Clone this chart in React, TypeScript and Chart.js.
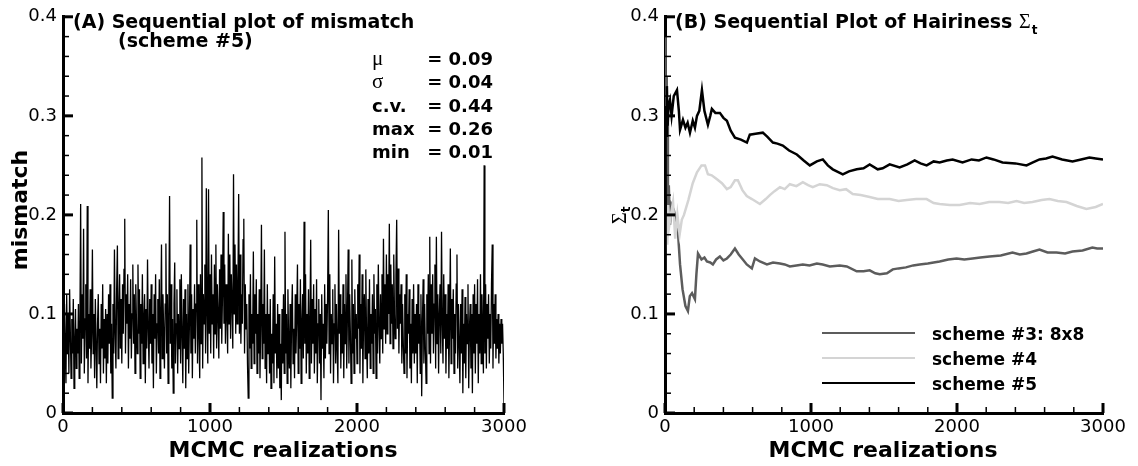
import React, { useEffect, useRef } from 'react';
import { Chart, registerables } from 'chart.js';

Chart.register(...registerables);

const SANS = "'DejaVu Sans', sans-serif";
const SERIF = "'Liberation Serif', 'DejaVu Serif', serif";

// ---------- Panel A data: mismatch per MCMC realization (sampled every 5) ----------
const mismatchStep = 5;
const mismatchValues = [
  0.09, 0.05, 0.11, 0.07, 0.03, 0.12, 0.06, 0.10, 0.04, 0.125, 0.08, 0.035, 0.095, 0.06, 0.115, 0.025, 0.07, 0.105, 0.045, 0.085,
  0.06, 0.11, 0.035, 0.09, 0.211, 0.05, 0.12, 0.075, 0.186, 0.04, 0.095, 0.13, 0.055, 0.209, 0.03, 0.1, 0.065, 0.125, 0.045, 0.08,
  0.165, 0.06, 0.1, 0.035, 0.115, 0.07, 0.025, 0.09, 0.12, 0.05, 0.085, 0.03, 0.11, 0.065, 0.13, 0.04, 0.095, 0.055, 0.105, 0.03,
  0.1, 0.05, 0.12, 0.07, 0.13, 0.04, 0.09, 0.015, 0.11, 0.06, 0.165, 0.08, 0.045, 0.125, 0.169, 0.055, 0.1, 0.14, 0.065, 0.115,
  0.05, 0.13, 0.08, 0.145, 0.196, 0.06, 0.12, 0.09, 0.14, 0.045, 0.11, 0.075, 0.135, 0.055, 0.1, 0.15, 0.07, 0.12, 0.04, 0.13,
  0.09, 0.06, 0.15, 0.08, 0.125, 0.035, 0.11, 0.07, 0.14, 0.05, 0.095, 0.12, 0.03, 0.105, 0.065, 0.155, 0.085, 0.045, 0.115, 0.07,
  0.13, 0.05, 0.1, 0.025, 0.12, 0.075, 0.14, 0.04, 0.09, 0.115, 0.06, 0.135, 0.035, 0.1, 0.17, 0.055, 0.12, 0.08, 0.045, 0.11,
  0.171, 0.06, 0.12, 0.03, 0.1, 0.219, 0.07, 0.13, 0.045, 0.095, 0.02, 0.11, 0.152, 0.05, 0.09, 0.125, 0.04, 0.1, 0.065, 0.135,
  0.05, 0.14, 0.08, 0.03, 0.115, 0.065, 0.125, 0.025, 0.1, 0.055, 0.13, 0.04, 0.09, 0.17, 0.06, 0.12, 0.035, 0.105, 0.075, 0.13,
  0.06, 0.11, 0.195, 0.05, 0.13, 0.08, 0.035, 0.14, 0.07, 0.258, 0.045, 0.12, 0.09, 0.15, 0.06, 0.227, 0.1, 0.05, 0.226, 0.08,
  0.14, 0.06, 0.16, 0.09, 0.12, 0.055, 0.15, 0.08, 0.17, 0.065, 0.13, 0.1, 0.055, 0.145, 0.085, 0.16, 0.07, 0.12, 0.203, 0.09,
  0.15, 0.07, 0.13, 0.1, 0.06, 0.181, 0.09, 0.16, 0.075, 0.14, 0.11, 0.065, 0.241, 0.1, 0.17, 0.08, 0.15, 0.09, 0.13, 0.221,
  0.08, 0.16, 0.07, 0.12, 0.09, 0.175, 0.196, 0.06, 0.13, 0.085, 0.11, 0.05, 0.015, 0.12, 0.065, 0.14, 0.045, 0.1, 0.07, 0.163,
  0.05, 0.12, 0.08, 0.135, 0.04, 0.1, 0.06, 0.125, 0.035, 0.09, 0.19, 0.055, 0.11, 0.07, 0.165, 0.045, 0.1, 0.03, 0.13, 0.06,
  0.1, 0.04, 0.115, 0.025, 0.08, 0.05, 0.12, 0.03, 0.158, 0.06, 0.09, 0.035, 0.11, 0.045, 0.1, 0.025, 0.07, 0.013, 0.105, 0.05,
  0.12, 0.04, 0.183, 0.06, 0.1, 0.03, 0.125, 0.07, 0.045, 0.11, 0.025, 0.095, 0.13, 0.05, 0.085, 0.035, 0.12, 0.06, 0.1, 0.15,
  0.04, 0.11, 0.065, 0.135, 0.03, 0.09, 0.12, 0.055, 0.193, 0.07, 0.14, 0.04, 0.1, 0.06, 0.125, 0.035, 0.09, 0.175, 0.05, 0.115,
  0.07, 0.13, 0.04, 0.105, 0.06, 0.135, 0.03, 0.09, 0.115, 0.05, 0.1, 0.013, 0.12, 0.065, 0.09, 0.035, 0.13, 0.055, 0.11, 0.07,
  0.12, 0.205, 0.06, 0.14, 0.04, 0.1, 0.07, 0.125, 0.03, 0.09, 0.13, 0.05, 0.11, 0.065, 0.03, 0.185, 0.08, 0.12, 0.045, 0.1,
  0.06, 0.13, 0.035, 0.11, 0.07, 0.14, 0.045, 0.1, 0.165, 0.05, 0.12, 0.08, 0.03, 0.155, 0.06, 0.11, 0.04, 0.125, 0.075, 0.1,
  0.05, 0.13, 0.085, 0.16, 0.04, 0.11, 0.065, 0.14, 0.03, 0.1, 0.12, 0.055, 0.145, 0.075, 0.035, 0.115, 0.06, 0.135, 0.045, 0.1,
  0.07, 0.12, 0.04, 0.14, 0.08, 0.105, 0.035, 0.13, 0.06, 0.15, 0.09, 0.05, 0.12, 0.075, 0.14, 0.06, 0.176, 0.085, 0.13, 0.07,
  0.16, 0.08, 0.14, 0.1, 0.191, 0.07, 0.15, 0.09, 0.13, 0.065, 0.16, 0.1, 0.075, 0.14, 0.195, 0.085, 0.146, 0.06, 0.12, 0.09,
  0.13, 0.05, 0.11, 0.07, 0.04, 0.12, 0.06, 0.14, 0.035, 0.1, 0.08, 0.125, 0.045, 0.09, 0.03, 0.115, 0.06, 0.13, 0.05, 0.1,
  0.06, 0.11, 0.03, 0.13, 0.07, 0.1, 0.04, 0.12, 0.017, 0.09, 0.135, 0.05, 0.11, 0.065, 0.03, 0.12, 0.08, 0.14, 0.06, 0.178,
  0.05, 0.13, 0.08, 0.14, 0.06, 0.11, 0.15, 0.045, 0.178, 0.07, 0.12, 0.04, 0.1, 0.13, 0.06, 0.183, 0.09, 0.05, 0.14, 0.075,
  0.12, 0.04, 0.1, 0.065, 0.13, 0.035, 0.09, 0.166, 0.05, 0.115, 0.075, 0.125, 0.04, 0.1, 0.06, 0.13, 0.16, 0.045, 0.11, 0.07,
  0.03, 0.11, 0.06, 0.125, 0.02, 0.09, 0.05, 0.117, 0.035, 0.1, 0.07, 0.13, 0.025, 0.085, 0.11, 0.045, 0.1, 0.02, 0.12, 0.06,
  0.13, 0.04, 0.11, 0.07, 0.135, 0.03, 0.1, 0.06, 0.14, 0.05, 0.12, 0.08, 0.04, 0.25, 0.06, 0.13, 0.045, 0.11, 0.075, 0.12,
  0.05, 0.1, 0.065, 0.13, 0.17, 0.045, 0.11, 0.07, 0.12, 0.055, 0.095, 0.065, 0.1, 0.05, 0.09, 0.06, 0.095, 0.07, 0.09, 0.06,
  0.01,
];

const statLabels = ['μ', 'σ', 'c.v.', 'max', 'min'];
const statValues = ['= 0.09', '= 0.04', '= 0.44', '= 0.26', '= 0.01'];

// ---------- Panel B data: running hairiness ----------
const scheme3X = [0, 2, 4, 6, 9, 12, 16, 20, 26, 34, 45, 60, 75, 90, 103, 120, 140, 157, 170, 185, 205, 215, 226, 250, 270, 287, 310, 328, 350, 376, 400, 424, 450, 479, 505, 533, 560, 595, 616, 650, 698, 740, 787, 820, 855, 900, 944, 990, 1040, 1080, 1129, 1197, 1245, 1313, 1360, 1402, 1440, 1471, 1520, 1560, 1600, 1650, 1700, 1744, 1800, 1840, 1881, 1940, 1997, 2050, 2107, 2160, 2223, 2300, 2380, 2430, 2476, 2520, 2565, 2620, 2681, 2740, 2791, 2860, 2927, 2960, 3000];
const scheme3Y = [0.38, 0.22, 0.36, 0.25, 0.34, 0.24, 0.30, 0.21, 0.23, 0.19, 0.21, 0.205, 0.195, 0.18, 0.150, 0.125, 0.108, 0.103, 0.118, 0.121, 0.115, 0.14, 0.161, 0.155, 0.157, 0.153, 0.152, 0.150, 0.155, 0.158, 0.154, 0.156, 0.160, 0.166, 0.160, 0.155, 0.150, 0.146, 0.156, 0.153, 0.150, 0.152, 0.151, 0.150, 0.148, 0.149, 0.150, 0.149, 0.151, 0.150, 0.148, 0.149, 0.148, 0.143, 0.143, 0.144, 0.141, 0.140, 0.141, 0.145, 0.146, 0.147, 0.149, 0.150, 0.151, 0.152, 0.153, 0.155, 0.156, 0.155, 0.156, 0.157, 0.158, 0.159, 0.162, 0.160, 0.161, 0.163, 0.165, 0.162, 0.162, 0.161, 0.163, 0.164, 0.167, 0.166, 0.166];

const scheme4X = [0, 2, 5, 10, 16, 22, 30, 40, 55, 70, 85, 100, 115, 130, 160, 190, 219, 250, 274, 294, 320, 356, 390, 424, 450, 479, 499, 530, 560, 595, 650, 690, 718, 750, 787, 820, 855, 900, 944, 980, 1012, 1060, 1108, 1150, 1197, 1240, 1286, 1340, 1402, 1457, 1539, 1600, 1655, 1720, 1792, 1840, 1881, 1950, 2018, 2090, 2155, 2220, 2291, 2350, 2408, 2460, 2517, 2580, 2633, 2690, 2750, 2820, 2886, 2950, 3000];
const scheme4Y = [0.12, 0.19, 0.16, 0.20, 0.17, 0.21, 0.19, 0.20, 0.213, 0.176, 0.20, 0.18, 0.195, 0.20, 0.215, 0.232, 0.243, 0.250, 0.250, 0.241, 0.240, 0.236, 0.232, 0.226, 0.228, 0.235, 0.235, 0.225, 0.219, 0.216, 0.211, 0.216, 0.220, 0.224, 0.228, 0.226, 0.231, 0.229, 0.233, 0.230, 0.228, 0.231, 0.230, 0.227, 0.225, 0.226, 0.221, 0.220, 0.218, 0.216, 0.216, 0.214, 0.215, 0.216, 0.216, 0.212, 0.211, 0.210, 0.210, 0.212, 0.211, 0.213, 0.213, 0.212, 0.214, 0.212, 0.213, 0.215, 0.216, 0.214, 0.213, 0.209, 0.206, 0.208, 0.211];

const scheme5X = [0, 2, 4, 6, 9, 13, 18, 24, 34, 45, 60, 82, 95, 103, 123, 140, 155, 171, 190, 205, 219, 235, 253, 270, 294, 310, 321, 345, 376, 400, 424, 450, 479, 520, 561, 581, 620, 670, 700, 739, 770, 807, 850, 903, 950, 992, 1040, 1081, 1115, 1149, 1218, 1260, 1313, 1360, 1402, 1457, 1491, 1539, 1607, 1660, 1710, 1750, 1792, 1840, 1881, 1930, 1970, 2038, 2100, 2150, 2202, 2250, 2312, 2400, 2476, 2520, 2565, 2610, 2654, 2720, 2791, 2850, 2907, 2950, 3000];
const scheme5Y = [0.0, 0.05, 0.22, 0.31, 0.28, 0.33, 0.29, 0.31, 0.316, 0.30, 0.32, 0.326, 0.305, 0.286, 0.296, 0.288, 0.293, 0.283, 0.295, 0.288, 0.300, 0.305, 0.326, 0.305, 0.291, 0.300, 0.307, 0.303, 0.303, 0.298, 0.295, 0.285, 0.278, 0.276, 0.273, 0.281, 0.282, 0.283, 0.279, 0.273, 0.272, 0.270, 0.265, 0.261, 0.255, 0.250, 0.254, 0.256, 0.250, 0.246, 0.241, 0.244, 0.246, 0.247, 0.251, 0.246, 0.247, 0.251, 0.248, 0.251, 0.255, 0.252, 0.250, 0.254, 0.253, 0.255, 0.256, 0.253, 0.256, 0.255, 0.258, 0.256, 0.253, 0.252, 0.250, 0.253, 0.256, 0.257, 0.259, 0.256, 0.254, 0.256, 0.258, 0.257, 0.256];

const legendLabels = ['scheme #3: 8x8', 'scheme #4', 'scheme #5'];
const seriesColors = ['#5c5c5c', '#d4d4d4', '#000000'];

// ---------- axes ----------
const xMajorTicks = [0, 1000, 2000, 3000];
const xMinorTicks = [200, 400, 600, 800, 1200, 1400, 1600, 1800, 2200, 2400, 2600, 2800];
const yMajorTicks = [0, 0.1, 0.2, 0.3, 0.4];
const yMinorTicks = [0.02, 0.04, 0.06, 0.08, 0.12, 0.14, 0.16, 0.18, 0.22, 0.24, 0.26, 0.28, 0.32, 0.34, 0.36, 0.38];

const W = 569;
const H = 466;

function drawInwardTicks(chart: any) {
  const { ctx, chartArea, scales } = chart;
  const { left, bottom } = chartArea;
  const x = scales.x;
  const y = scales.y;
  ctx.save();
  ctx.strokeStyle = '#000';
  ctx.lineCap = 'butt';
  const seg = (x1: number, y1: number, x2: number, y2: number, w: number) => {
    ctx.lineWidth = w;
    ctx.beginPath();
    ctx.moveTo(x1, y1);
    ctx.lineTo(x2, y2);
    ctx.stroke();
  };
  xMajorTicks.forEach((v) => {
    const p = x.getPixelForValue(v);
    seg(p, bottom, p, bottom - 10, 3);
  });
  xMinorTicks.forEach((v) => {
    const p = x.getPixelForValue(v);
    seg(p, bottom, p, bottom - 6, 1.5);
  });
  yMajorTicks.forEach((v) => {
    const p = y.getPixelForValue(v);
    seg(left, p, left + 10, p, 3);
  });
  yMinorTicks.forEach((v) => {
    const p = y.getPixelForValue(v);
    seg(left, p, left + 6, p, 1.5);
  });
  ctx.restore();
}

function axisScales(yWidth: number) {
  const tickFont = { family: SANS, size: 18 };
  return {
    x: {
      type: 'linear' as const,
      min: 0,
      max: 3000,
      ticks: {
        stepSize: 1000,
        font: tickFont,
        color: '#000',
        padding: 4,
        maxRotation: 0,
        callback: (v: any) => String(v),
      },
      grid: { display: false, drawTicks: false },
      border: { display: true, width: 3, color: '#000' },
      afterFit: (s: any) => {
        s.height = 53;
      },
    },
    y: {
      type: 'linear' as const,
      min: 0,
      max: 0.4,
      ticks: {
        stepSize: 0.1,
        font: tickFont,
        color: '#000',
        padding: 6,
        callback: (v: any) => (Number(v) === 0 ? '0' : Number(v).toFixed(1)),
      },
      grid: { display: false, drawTicks: false },
      border: { display: true, width: 3, color: '#000' },
      afterFit: (s: any) => {
        s.width = yWidth;
      },
    },
  };
}

const panelAPlugin = {
  id: 'panelADecor',
  afterDraw(chart: any) {
    drawInwardTicks(chart);
    const ctx = chart.ctx;
    ctx.save();
    ctx.fillStyle = '#000';
    ctx.textBaseline = 'alphabetic';
    ctx.textAlign = 'left';
    ctx.font = `bold 19px ${SANS}`;
    ctx.fillText('(A) Sequential plot of mismatch', 73, 28);
    ctx.fillText('(scheme #5)', 118, 47);
    const baselines = [65, 88, 111.5, 135, 158];
    statLabels.forEach((lab, i) => {
      ctx.textAlign = 'left';
      if (i < 2) ctx.font = `21px ${SERIF}`;
      else ctx.font = `bold 18px ${SANS}`;
      ctx.fillText(lab, 372, baselines[i]);
      ctx.font = `bold 18px ${SANS}`;
      ctx.textAlign = 'right';
      ctx.fillText(statValues[i], 493, baselines[i]);
    });
    // axis titles
    ctx.font = `bold 22px ${SANS}`;
    ctx.textAlign = 'center';
    ctx.fillText('MCMC realizations', 283, 457);
    ctx.save();
    ctx.translate(27, 210);
    ctx.rotate(-Math.PI / 2);
    ctx.fillText('mismatch', 0, 0);
    ctx.restore();
    ctx.restore();
  },
};

const panelBPlugin = {
  id: 'panelBDecor',
  afterDraw(chart: any) {
    drawInwardTicks(chart);
    const ctx = chart.ctx;
    ctx.save();
    ctx.fillStyle = '#000';
    ctx.textBaseline = 'alphabetic';
    ctx.textAlign = 'left';
    ctx.font = `bold 19px ${SANS}`;
    const t1 = '(B) Sequential Plot of Hairiness ';
    ctx.fillText(t1, 106, 28);
    const w1 = ctx.measureText(t1).width;
    ctx.font = `20px ${SERIF}`;
    ctx.fillText('Σ', 106 + w1, 28);
    const w2 = ctx.measureText('Σ').width;
    ctx.font = `bold 12px ${SANS}`;
    ctx.fillText('t', 106 + w1 + w2 + 1, 34);

    // legend
    const lineY = [333, 358, 383];
    const textY = [340, 365, 390];
    legendLabels.forEach((lab, i) => {
      ctx.strokeStyle = seriesColors[i];
      ctx.lineWidth = 2;
      ctx.beginPath();
      ctx.moveTo(253, lineY[i]);
      ctx.lineTo(346, lineY[i]);
      ctx.stroke();
      ctx.font = `bold 17px ${SANS}`;
      ctx.fillStyle = '#000';
      ctx.fillText(lab, 363, textY[i]);
    });

    // axis titles
    ctx.font = `bold 22px ${SANS}`;
    ctx.textAlign = 'center';
    ctx.fillText('MCMC realizations', 314, 457);
    ctx.save();
    ctx.translate(57, 224);
    ctx.rotate(-Math.PI / 2);
    ctx.textAlign = 'left';
    ctx.font = `20px ${SERIF}`;
    ctx.fillText('Σ', 0, 0);
    const ws = ctx.measureText('Σ').width;
    ctx.font = `bold 12px ${SANS}`;
    ctx.fillText('t', ws, 4);
    ctx.restore();
    ctx.restore();
  },
};

function makePoints(xs: number[], ys: number[]) {
  return xs.map((x, i) => ({ x, y: ys[i] }));
}

export default function App() {
  const refA = useRef<HTMLCanvasElement | null>(null);
  const refB = useRef<HTMLCanvasElement | null>(null);

  useEffect(() => {
    if (!refA.current || !refB.current) return;
    const chartA = new Chart(refA.current, {
      type: 'line',
      data: {
        datasets: [
          {
            data: mismatchValues.map((v, i) => ({ x: i * mismatchStep, y: v })),
            borderColor: '#000',
            borderWidth: 1.3,
            pointRadius: 0,
            tension: 0,
            fill: false,
          },
        ],
      },
      options: {
        animation: false,
        responsive: false,
        devicePixelRatio: 1,
        layout: { padding: { left: 0, top: 13, right: 65, bottom: 0 } },
        plugins: { legend: { display: false }, tooltip: { enabled: false } },
        scales: axisScales(63) as any,
      },
      plugins: [panelAPlugin],
    });

    const chartB = new Chart(refB.current, {
      type: 'line',
      data: {
        datasets: [
          {
            label: legendLabels[0],
            data: makePoints(scheme3X, scheme3Y),
            borderColor: seriesColors[0],
            borderWidth: 2.5,
            pointRadius: 0,
            tension: 0,
            order: 2,
          },
          {
            label: legendLabels[1],
            data: makePoints(scheme4X, scheme4Y),
            borderColor: seriesColors[1],
            borderWidth: 2.5,
            pointRadius: 0,
            tension: 0,
            order: 1,
          },
          {
            label: legendLabels[2],
            data: makePoints(scheme5X, scheme5Y),
            borderColor: seriesColors[2],
            borderWidth: 2.5,
            pointRadius: 0,
            tension: 0,
            order: 0,
          },
        ],
      },
      options: {
        animation: false,
        responsive: false,
        devicePixelRatio: 1,
        layout: { padding: { left: 0, top: 13, right: 35, bottom: 0 } },
        plugins: { legend: { display: false }, tooltip: { enabled: false } },
        scales: axisScales(96) as any,
      },
      plugins: [panelBPlugin],
    });

    return () => {
      chartA.destroy();
      chartB.destroy();
    };
  }, []);

  return (
    <div style={{ position: 'fixed', left: 0, top: 0, width: 1138, height: 466, background: '#fff' }}>
      <canvas ref={refA} width={W} height={H} style={{ position: 'absolute', left: 0, top: 0, width: W, height: H }} />
      <canvas ref={refB} width={W} height={H} style={{ position: 'absolute', left: W, top: 0, width: W, height: H }} />
    </div>
  );
}
